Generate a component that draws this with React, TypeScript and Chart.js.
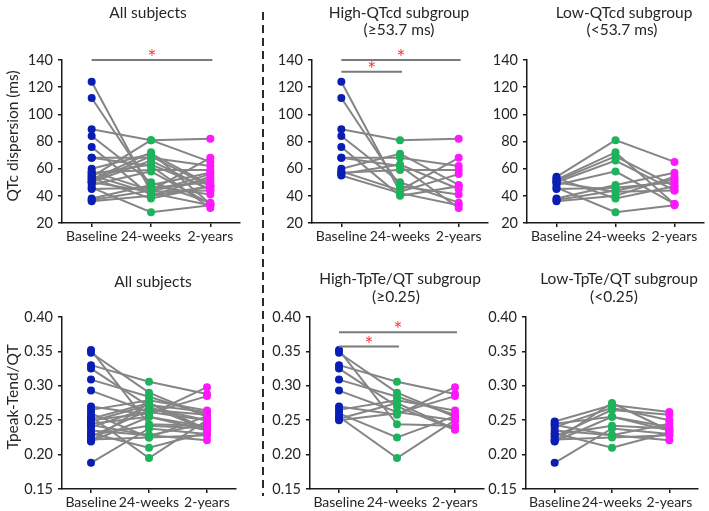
import React, { useEffect, useRef } from 'react';
import { Chart, registerables } from 'chart.js';

Chart.register(...registerables);

// ---------- data ----------
const timepoints = ['Baseline', '24-weeks', '2-years'];

// QTc dispersion (ms), High-QTcd subgroup (baseline >= 53.7 ms)
const qtcdHighBaseline = [124, 112, 89, 84, 76, 68, 68, 60, 58, 57, 56, 55];
const qtcdHighWeek24 = [43, 47, 81, 50, 40, 68, 62, 71, 44, 59, 63, 42];
const qtcdHighYear2 = [56, 41, 82, 35, 47, 62, 31, 48, 68, 59, 45, 33];

// QTc dispersion (ms), Low-QTcd subgroup (baseline < 53.7 ms)
const qtcdLowBaseline = [54, 52, 51, 50, 48, 45, 38, 36, 53, 50, 46, 37];
const qtcdLowWeek24 = [81, 72, 69, 66, 58, 46, 48, 40, 38, 43, 28, 44];
const qtcdLowYear2 = [65, 34, 47, 44, 34, 50, 57, 54, 47, 44, 33, 52];

// Tpeak-Tend/QT, High-TpTe/QT subgroup (baseline >= 0.25)
const tpteHighBaseline = [0.352, 0.348, 0.33, 0.325, 0.309, 0.293, 0.27, 0.265, 0.26, 0.255, 0.252, 0.25];
const tpteHighWeek24 = [0.244, 0.29, 0.306, 0.27, 0.284, 0.262, 0.258, 0.279, 0.225, 0.195, 0.275, 0.26];
const tpteHighYear2 = [0.242, 0.255, 0.288, 0.236, 0.258, 0.25, 0.298, 0.264, 0.256, 0.25, 0.237, 0.285];

// Tpeak-Tend/QT, Low-TpTe/QT subgroup (baseline < 0.25)
const tpteLowBaseline = [0.248, 0.245, 0.243, 0.24, 0.231, 0.229, 0.226, 0.222, 0.219, 0.188, 0.235, 0.22];
const tpteLowWeek24 = [0.272, 0.255, 0.228, 0.268, 0.21, 0.242, 0.265, 0.225, 0.255, 0.238, 0.228, 0.275];
const tpteLowYear2 = [0.262, 0.235, 0.245, 0.25, 0.232, 0.238, 0.258, 0.228, 0.24, 0.23, 0.221, 0.235];

// significance bars: [from category index, to category index, y value]
const sigQtcdAll = [[0, 2, 140]];
const sigQtcdHigh = [[0, 2, 140], [0, 1, 131.4]];
const sigTpteHigh = [[0, 2, 0.378], [0, 1, 0.357]];

// ---------- styles ----------
const FONT = "Lato, 'Open Sans', sans-serif";
const TEXT = '#262626';
const AXIS = '#1a1a1a';
const LINE_GREY = '#858585';
const POINT_COLORS = ['#0a1eb4', '#1db35c', '#ff18ff'];
const STAR_RED = '#ff3c3c';

const sigPlugin = {
  id: 'sigBars',
  afterDraw(chart: any) {
    const bars = chart.options.plugins.sigBars?.bars || [];
    const { ctx } = chart;
    const x = chart.scales.x;
    const y = chart.scales.y;
    bars.forEach(([from, to, val]: number[]) => {
      const x1 = x.getPixelForValue(from);
      const x2 = x.getPixelForValue(to) + 2;
      const py = y.getPixelForValue(val);
      ctx.save();
      ctx.strokeStyle = '#7a7a7a';
      ctx.lineWidth = 2;
      ctx.beginPath();
      ctx.moveTo(x1, py);
      ctx.lineTo(x2, py);
      ctx.stroke();
      ctx.fillStyle = STAR_RED;
      ctx.font = `21px ${FONT}`;
      ctx.textAlign = 'center';
      ctx.textBaseline = 'alphabetic';
      ctx.fillText('*', (x1 + x2) / 2, py + 5);
      ctx.restore();
    });
  },
};

type Panel = {
  area: { left: number; right: number; top: number; bottom: number };
  base: number[];
  w24: number[];
  y2: number[];
  yMin: number;
  yMax: number;
  yStep: number;
  decimals: number;
  sig: number[][];
};

const Y_AXIS_W = 60;
const TOP_PAD = 60;
const X_AXIS_H = 24;
const RIGHT_PAD = 2;

function PanelChart({ panel }: { panel: Panel }) {
  const ref = useRef<HTMLCanvasElement>(null);
  const { area } = panel;
  const left = area.left - Y_AXIS_W;
  const top = area.top - TOP_PAD;
  const width = area.right - area.left + Y_AXIS_W + RIGHT_PAD;
  const height = area.bottom - area.top + TOP_PAD + X_AXIS_H;

  useEffect(() => {
    if (!ref.current) return;
    const series = [panel.base, panel.w24, panel.y2];
    const datasets: any[] = [];
    series.forEach((arr, ti) => {
      datasets.push({
        type: 'line',
        data: arr.map((v) => ({ x: timepoints[ti], y: v })),
        showLine: false,
        pointRadius: 4,
        pointHoverRadius: 4,
        pointBackgroundColor: POINT_COLORS[ti],
        pointBorderColor: POINT_COLORS[ti],
        pointBorderWidth: 0,
        order: 0,
      });
    });
    panel.base.forEach((b, i) => {
      datasets.push({
        type: 'line',
        data: [b, panel.w24[i], panel.y2[i]],
        borderColor: LINE_GREY,
        borderWidth: 2,
        pointRadius: 0,
        tension: 0,
        fill: false,
        order: 1,
      });
    });

    const tickFont = { family: FONT, size: 14.5 };
    const xTickFont = { family: FONT, size: 14 };
    const chart = new Chart(ref.current, {
      type: 'line',
      data: { labels: timepoints, datasets },
      options: {
        responsive: false,
        animation: false,
        events: [],
        layout: { padding: { left: 0, top: TOP_PAD, right: RIGHT_PAD, bottom: 0 } },
        plugins: {
          legend: { display: false },
          tooltip: { enabled: false },
          title: { display: false },
          sigBars: { bars: panel.sig },
        } as any,
        scales: {
          x: {
            type: 'category',
            labels: timepoints,
            offset: true,
            grid: {
              display: true,
              drawOnChartArea: false,
              drawTicks: true,
              tickLength: 4,
              color: AXIS,
              lineWidth: 1.5,
              offset: false,
            },
            border: { display: true, color: AXIS, width: 1.5 },
            ticks: { font: xTickFont, color: TEXT, padding: 1, maxRotation: 0, autoSkip: false },
            afterFit: (s: any) => {
              s.height = X_AXIS_H;
            },
          },
          y: {
            min: panel.yMin,
            max: panel.yMax,
            grid: {
              display: true,
              drawOnChartArea: false,
              drawTicks: true,
              tickLength: 4,
              color: AXIS,
              lineWidth: 1.5,
            },
            border: { display: true, color: AXIS, width: 1.5 },
            ticks: {
              stepSize: panel.yStep,
              font: tickFont,
              color: TEXT,
              padding: 5,
              callback: (v: any) => Number(v).toFixed(panel.decimals),
            },
            afterFit: (s: any) => {
              s.width = Y_AXIS_W;
            },
          },
        },
      } as any,
      plugins: [sigPlugin],
    });
    return () => chart.destroy();
  }, [panel]);

  return (
    <canvas
      ref={ref}
      width={width}
      height={height}
      style={{ position: 'absolute', left, top, width, height }}
    />
  );
}

const panels: Panel[] = [
  {
    area: { left: 62, right: 242, top: 60, bottom: 223 },
    base: [...qtcdHighBaseline, ...qtcdLowBaseline],
    w24: [...qtcdHighWeek24, ...qtcdLowWeek24],
    y2: [...qtcdHighYear2, ...qtcdLowYear2],
    yMin: 20, yMax: 140, yStep: 20, decimals: 0, sig: sigQtcdAll,
  },
  {
    area: { left: 312, right: 490, top: 60, bottom: 223 },
    base: qtcdHighBaseline, w24: qtcdHighWeek24, y2: qtcdHighYear2,
    yMin: 20, yMax: 140, yStep: 20, decimals: 0, sig: sigQtcdHigh,
  },
  {
    area: { left: 527, right: 706, top: 60, bottom: 223 },
    base: qtcdLowBaseline, w24: qtcdLowWeek24, y2: qtcdLowYear2,
    yMin: 20, yMax: 140, yStep: 20, decimals: 0, sig: [],
  },
  {
    area: { left: 62, right: 238, top: 317, bottom: 489 },
    base: [...tpteHighBaseline, ...tpteLowBaseline],
    w24: [...tpteHighWeek24, ...tpteLowWeek24],
    y2: [...tpteHighYear2, ...tpteLowYear2],
    yMin: 0.15, yMax: 0.4, yStep: 0.05, decimals: 2, sig: [],
  },
  {
    area: { left: 310, right: 486, top: 317, bottom: 489 },
    base: tpteHighBaseline, w24: tpteHighWeek24, y2: tpteHighYear2,
    yMin: 0.15, yMax: 0.4, yStep: 0.05, decimals: 2, sig: sigTpteHigh,
  },
  {
    area: { left: 526, right: 700, top: 317, bottom: 489 },
    base: tpteLowBaseline, w24: tpteLowWeek24, y2: tpteLowYear2,
    yMin: 0.15, yMax: 0.4, yStep: 0.05, decimals: 2, sig: [],
  },
];

const titles: { text: string; x: number; y: number }[] = [
  { text: 'All subjects', x: 148, y: 13 },
  { text: 'High-QTcd subgroup', x: 399, y: 13 },
  { text: '(≥53.7 ms)', x: 399, y: 30 },
  { text: 'Low-QTcd subgroup', x: 624, y: 13 },
  { text: '(<53.7 ms)', x: 622, y: 30 },
  { text: 'All subjects', x: 153, y: 282 },
  { text: 'High-TpTe/QT subgroup', x: 400, y: 279 },
  { text: '(≥0.25)', x: 396, y: 297 },
  { text: 'Low-TpTe/QT subgroup', x: 619, y: 279 },
  { text: '(<0.25)', x: 614, y: 297 },
];

const yTitles: { text: string; x: number; y: number }[] = [
  { text: 'QTc dispersion (ms)', x: 13, y: 136 },
  { text: 'Tpeak-Tend/QT', x: 13, y: 397 },
];

export default function App() {
  return (
    <div
      style={{
        position: 'absolute',
        left: 0,
        top: 0,
        width: 709,
        height: 511,
        overflow: 'hidden',
        background: '#ffffff',
        fontFamily: FONT,
        color: TEXT,
      }}
    >
      {panels.map((p, i) => (
        <PanelChart key={i} panel={p} />
      ))}
      {titles.map((t, i) => (
        <div
          key={'t' + i}
          style={{
            position: 'absolute',
            left: t.x,
            top: t.y,
            transform: 'translate(-50%, -50%)',
            whiteSpace: 'nowrap',
            fontSize: 15.5,
            lineHeight: 1,
          }}
        >
          {t.text}
        </div>
      ))}
      {yTitles.map((t, i) => (
        <div
          key={'y' + i}
          style={{
            position: 'absolute',
            left: t.x,
            top: t.y,
            transform: 'translate(-50%, -50%) rotate(-90deg)',
            whiteSpace: 'nowrap',
            fontSize: 15.5,
            lineHeight: 1,
          }}
        >
          {t.text}
        </div>
      ))}
      <div
        style={{
          position: 'absolute',
          left: 262,
          top: 12,
          width: 2,
          height: 484,
          background: 'repeating-linear-gradient(to bottom, #2a2a2a 0px, #2a2a2a 8px, transparent 8px, transparent 13px)',
        }}
      />
    </div>
  );
}
